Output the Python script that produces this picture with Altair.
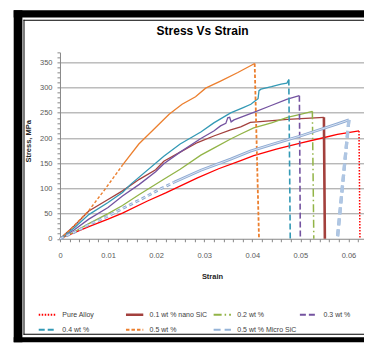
import altair as alt
import pandas as pd

SERIES = ["Pure Alloy", "0.1 wt % nano SiC", "0.2 wt %", "0.3 wt %",
          "0.4 wt %", "0.5 wt %", "0.5 wt % Micro SiC"]
COLORS = ["#FF0000", "#A3403D", "#92B447", "#7453A0", "#3399B5", "#EC7F2E", "#95B3D7"]
DROP_COLORS = ["#FF0000", "#A3403D", "#92B447", "#7453A0", "#3399B5", "#EC7F2E", "#AFC6E3"]
DASHES = [[1.5, 1.5], [1, 0], [8, 3, 1.5, 3], [6, 3], [6, 3], [3.5, 2], [7, 4]]
DROP_WIDTHS = [1.5, 2.6, 1.5, 1.6, 1.6, 1.8, 3.2]

PURE_STRAIN = [0, 0.003, 0.006, 0.010, 0.013, 0.0182, 0.022, 0.0286, 0.033, 0.0376,
               0.0403, 0.045, 0.050, 0.055, 0.0577, 0.0622]
PURE_STRESS = [0, 12, 24, 39, 51, 75, 91, 121, 139, 155, 165, 178, 190, 201, 207, 214]

NANO_STRAIN = [0, 0.003, 0.006, 0.010, 0.013, 0.0165, 0.0199, 0.0216, 0.025, 0.0286,
               0.032, 0.0355, 0.0376, 0.0396, 0.041, 0.0473, 0.0549]
NANO_STRESS = [0, 26, 55, 78, 95, 118, 137, 154, 172, 191, 204, 216, 222, 231, 232, 237, 241]

W02_STRAIN = [0, 0.003, 0.006, 0.010, 0.013, 0.0165, 0.0216, 0.025, 0.0293, 0.032,
              0.0355, 0.0376, 0.0403, 0.044, 0.0473, 0.050, 0.0525]
W02_STRESS = [0, 14, 30, 50, 66, 88, 118, 138, 166, 180, 198, 208, 220, 230, 241, 247, 253]

W03_STRAIN = [0, 0.003, 0.006, 0.010, 0.013, 0.0165, 0.0199, 0.0216, 0.025, 0.0293,
              0.032, 0.0334, 0.0345, 0.0349, 0.0353, 0.0356, 0.0362, 0.0403, 0.0438,
              0.0473, 0.0498]
W03_STRESS = [0, 18, 39, 62, 85, 108, 133, 149, 172, 199, 214, 224, 229, 240, 241, 232,
              236, 251, 264, 277, 284]

W04_STRAIN = [0, 0.003, 0.006, 0.010, 0.013, 0.0147, 0.0216, 0.025, 0.0293, 0.032,
              0.0355, 0.038, 0.0397, 0.0405, 0.0412, 0.0414, 0.0418, 0.044, 0.046,
              0.0472, 0.0476]
W04_STRESS = [0, 22, 48, 72, 92, 108, 164, 188, 212, 230, 250, 260, 267, 273, 278, 294,
              297, 302, 307, 309, 316]

W05_STRAIN = [0, 0.002, 0.006, 0.0095, 0.013, 0.0164, 0.0199, 0.0227, 0.0254, 0.0282,
              0.0303, 0.0334, 0.037, 0.0405]
W05_STRESS = [0, 17, 56, 100, 146, 188, 221, 247, 267, 282, 299, 313, 330, 348]

MICRO_STRAIN = [0, 0.003, 0.006, 0.010, 0.013, 0.0168, 0.0203, 0.0237, 0.0293, 0.0355,
                0.0396, 0.045, 0.050, 0.0577, 0.0601]
MICRO_STRESS = [0, 13, 28, 45, 60, 78, 96, 112, 136, 158, 174, 190, 204, 228, 236]

# strain at which each curve falls back to zero stress (fracture)
FAIL_STRAIN = [0.0624, 0.0551, 0.0528, 0.0500, 0.0479, 0.0414, 0.0577]
# early part of the curve drawn dashed (style only)
LEAD_END = [None, None, None, None, None, 0.013, 0.0237]

Y_TICKS = list(range(0, 371, 10))
X_TICKS = [round(i * 0.002, 3) for i in range(32)]

# legend slots (plot-relative pixels): 4 columns x 2 rows
LEG_X = [-22.6, 64.7, 152.4, 238.7, -22.6, 64.7, 152.4]
LEG_Y = [252.5, 252.5, 252.5, 252.5, 267.5, 267.5, 267.5]

STRAINS = [PURE_STRAIN, NANO_STRAIN, W02_STRAIN, W03_STRAIN, W04_STRAIN, W05_STRAIN, MICRO_STRAIN]
STRESSES = [PURE_STRESS, NANO_STRESS, W02_STRESS, W03_STRESS, W04_STRESS, W05_STRESS, MICRO_STRESS]

rows = []
for s, xs, ys, fail, lead in zip(SERIES, STRAINS, STRESSES, FAIL_STRAIN, LEAD_END):
    k = 0
    for x, y in zip(xs, ys):
        if lead is not None and x <= lead:
            rows.append(dict(series=s, strain=x, stress=y, part="lead", idx=k))
        if lead is None or x >= lead:
            rows.append(dict(series=s, strain=x, stress=y, part="curve", idx=k))
        k += 1
    rows.append(dict(series=s, strain=xs[-1], stress=ys[-1], part="drop", idx=k))
    rows.append(dict(series=s, strain=fail, stress=0, part="drop", idx=k + 1))
df = pd.DataFrame(rows)

FONT = "Liberation Sans, Arial, sans-serif"
PW, PH = 304.2, 186.5
XMAX = 0.06324

xenc = alt.X("strain:Q", scale=alt.Scale(domain=[0, XMAX], nice=False, zero=False),
             axis=alt.Axis(values=X_TICKS, tickCount=200, grid=False, title="Strain",
                           labelExpr="abs(datum.value*100 - round(datum.value*100)) < 0.001 ? format(datum.value, '~g') : ''",
                           labelOverlap=False, labelFlush=False, tickSize=3, labelPadding=10,
                           labelFont=FONT, labelFontSize=7.5, labelColor="#595959",
                           domainColor="#888888", tickColor="#888888",
                           titleFont=FONT, titleFontSize=7.5, titleFontWeight="bold",
                           titleColor="#262626", titleY=37.7, titleBaseline="middle"))
yenc = alt.Y("stress:Q", scale=alt.Scale(domain=[0, 370], nice=False),
             axis=alt.Axis(values=Y_TICKS, tickCount=200, title="Stress, MPa",
                           labelExpr="datum.value % 50 === 0 ? datum.label : ''",
                           labelOverlap=False, tickSize=3, labelPadding=5,
                           labelFont=FONT, labelFontSize=7.5, labelColor="#595959",
                           domainColor="#888888", tickColor="#888888",
                           gridColor="#9a9a9a", gridWidth=1,
                           gridOpacity={"condition": {"test": "datum.value % 50 === 0 && datum.value > 0", "value": 1}, "value": 0},
                           titleFont=FONT, titleFontSize=7.5, titleFontWeight="bold",
                           titleColor="#262626", titleAngle=270, titleX=-31.3, titleY=88.5,
                           titleBaseline="middle"))
cscale = alt.Scale(domain=SERIES, range=COLORS)

base = alt.Chart(df)
order = alt.Order("idx:Q")

curves = base.transform_filter(
    "datum.part == 'curve' && datum.series != '0.5 wt % Micro SiC'"
).mark_line(strokeWidth=1.3).encode(
    x=xenc, y=yenc, color=alt.Color("series:N", scale=cscale, legend=None),
    detail="series:N", order=order)

lead_orange = base.transform_filter(
    "datum.part == 'lead' && datum.series == '0.5 wt %'"
).mark_line(strokeWidth=1.4, strokeDash=[3, 2], color=COLORS[5]).encode(
    x="strain:Q", y="stress:Q", order=order)

drop_layers = []
for i, s in enumerate(SERIES):
    leg = alt.Legend(orient="none", legendX=LEG_X[i], legendY=LEG_Y[i], title=None,
                     symbolType="stroke", symbolSize=300,
                     symbolStrokeWidth=2.6 if i == 1 else 2,
                     labelFont=FONT, labelFontSize=7, labelColor="#404040",
                     labelOffset=5, padding=0, labelLimit=200)
    drop_layers.append(
        base.transform_filter(alt.FieldEqualPredicate(field="series", equal=s))
        .transform_filter("datum.part == 'drop'")
        .mark_line(strokeWidth=DROP_WIDTHS[i])
        .encode(x="strain:Q", y="stress:Q",
                color=alt.Color("series:N", scale=alt.Scale(domain=[s], range=[DROP_COLORS[i] if i != 6 else COLORS[6]]), legend=leg),
                strokeDash=alt.StrokeDash("series:N", scale=alt.Scale(domain=[s], range=[DASHES[i]]), legend=leg),
                order=order)
    )

drop_micro = base.transform_filter(
    "datum.part == 'drop' && datum.series == '0.5 wt % Micro SiC'"
).mark_line(strokeWidth=3.2, color=DROP_COLORS[6], strokeDash=DASHES[6]).encode(
    x="strain:Q", y="stress:Q", order=order)

micro_f = "datum.part == 'curve' && datum.series == '0.5 wt % Micro SiC'"
micro_l = "datum.part == 'lead' && datum.series == '0.5 wt % Micro SiC'"
micro_outer = base.transform_filter(micro_f).mark_line(strokeWidth=2.8, color="#8EAAD3").encode(
    x="strain:Q", y="stress:Q", order=order)
micro_inner = base.transform_filter(micro_f).mark_line(strokeWidth=0.9, color="#E2EAF5").encode(
    x="strain:Q", y="stress:Q", order=order)
micro_lead_o = base.transform_filter(micro_l).mark_line(strokeWidth=2.8, color="#8EAAD3", strokeDash=[4, 3]).encode(
    x="strain:Q", y="stress:Q", order=order)
micro_lead_i = base.transform_filter(micro_l).mark_line(strokeWidth=0.9, color="#E2EAF5", strokeDash=[4, 3]).encode(
    x="strain:Q", y="stress:Q", order=order)

one = alt.Chart(pd.DataFrame({"t": ["Stress Vs Strain"]}))


def band(x1, x2, y1, y2):
    return one.mark_rect(color="black").encode(
        x=alt.value(x1), x2=alt.value(x2), y=alt.value(y1), y2=alt.value(y2))


frame = [
    band(-46.3, -37.6, -42.2, 290),
    band(-46.3, PW, -42.2, -34.8),
    band(-46.3, PW, 285, 290),
    band(-36.5, -35.5, -32.7, 282.5),
    band(-36.5, PW, -32.7, -31.7),
    band(-36.5, PW, 281.5, 282.5),
]

title = one.mark_text(fontSize=12, fontWeight="bold", font=FONT, color="#000000",
                      baseline="middle", align="center").encode(
    text="t:N", x=alt.value(142.7), y=alt.value(-21.5))

chart = alt.layer(
    curves, lead_orange, *drop_layers, micro_outer, micro_inner,
    micro_lead_o, micro_lead_i, drop_micro, *frame, title
).resolve_scale(
    color="independent", strokeDash="independent"
).properties(
    width=PW, height=PH,
    padding={"left": 5, "top": 1.3, "right": 0, "bottom": 0},
    background="white"
).configure_view(strokeWidth=0)

chart.save("out.html", embed_options={"renderer": "svg", "actions": False})
